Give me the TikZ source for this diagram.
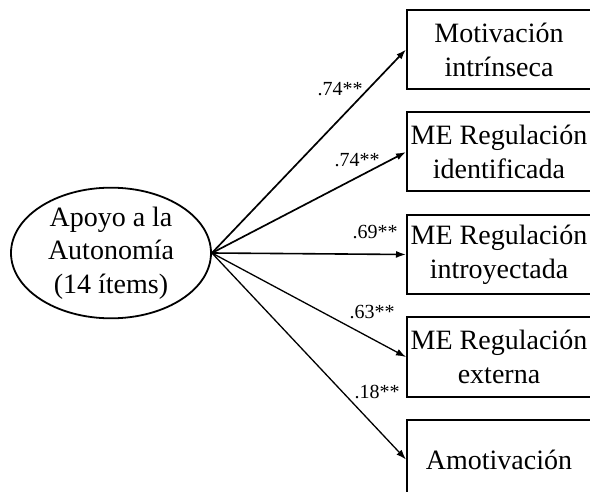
\documentclass[tikz,border=0pt]{standalone}
\usepackage{fontspec}
\setmainfont{Liberation Serif}
\usetikzlibrary{arrows.meta,positioning,shapes.geometric}

\begin{document}
\begin{tikzpicture}[
            x=1pt, y=1pt,
            node distance=21.5pt,
            factor/.style = {shape=ellipse, draw, line width=1.8pt, minimum width=200pt, minimum height=124pt, inner sep=0pt, align=center, font=\fontsize{28}{33.5}\selectfont},
            escala/.style = {shape=rectangle, draw, line width=2pt, minimum width=184pt, minimum height=79pt, inner sep=0pt, align=center, font=\fontsize{28}{34}\selectfont},
            carga/.style = {inner sep=0pt, font=\fontsize{20}{24}\selectfont},
            flecha/.style = {-{Latex[length=10pt,width=7pt]}, line width=1.3pt}
        ]
        \useasboundingbox (0,0) rectangle (590,-492);

        \node[factor] (apoyo) at (111,-253) {Apoyo a la\\Autonomía\\(14 ítems)};

        \node[escala] (intrinseca) at (499,-49.5) {Motivación\\intrínseca};
        \node[escala, below=of intrinseca] (identificada) {ME Regulación\\identificada};
        \node[escala, below=of identificada] (introyectada) {ME Regulación\\introyectada};
        \node[escala, below=of introyectada] (externa) {ME Regulación\\externa};
        \node[escala, below=of externa] (amotivacion) {Amotivación};

        \draw[flecha, line width=1.7pt] (apoyo.east) -- (intrinseca.west);
        \draw[flecha, line width=1.7pt] (apoyo.east) -- (identificada.west);
        \draw[flecha, line width=1.6pt] (apoyo.east) -- (introyectada.west);
        \draw[flecha] (apoyo.east) -- (externa.west);
        \draw[flecha] (apoyo.east) -- (amotivacion.west);

        \node[carga] (c1) at (340,-89) {.74**};
        \node[carga] (c2) at (357,-160) {.74**};
        \node[carga] (c3) at (375,-232) {.69**};
        \node[carga] (c4) at (372,-312) {.63**};
        \node[carga] (c5) at (377,-392) {.18**};

    \end{tikzpicture}
\end{document}
